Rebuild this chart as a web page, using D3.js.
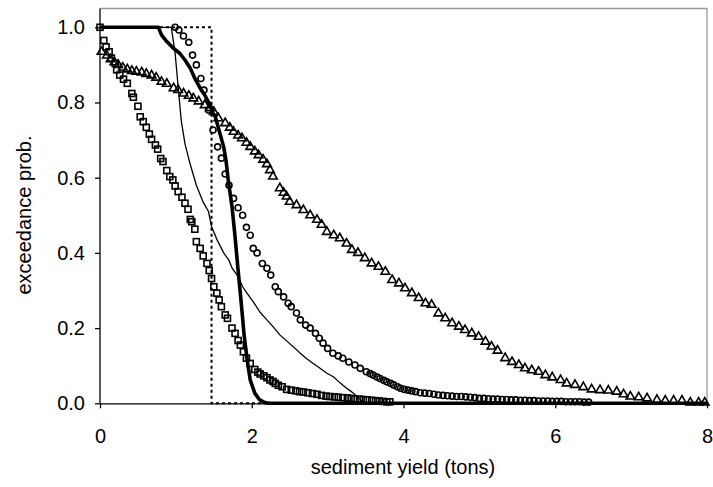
<!DOCTYPE html>
<html><head><meta charset="utf-8">
<script src="https://cdn.jsdelivr.net/npm/d3@7"></script>
<style>
html,body{margin:0;padding:0;background:#fff;}
text{font-family:"Liberation Sans",Arial,sans-serif;fill:#000;}
</style>
</head><body>
<svg id="chart" width="713" height="487"></svg>
<script>
// ---- data (x = sediment yield in tons, y = exceedance probability) ----
const xTicks = [0, 2, 4, 6, 8];
const yTicks = [0, 0.2, 0.4, 0.6, 0.8, 1.0];
const xTitle = "sediment yield (tons)";
const yTitle = "exceedance prob.";

const squareSeries = [[0,1.0],[0.05,0.965],[0.08,0.948],[0.12,0.935],[0.15,0.918],[0.2,0.904],[0.22,0.887],[0.26,0.873],[0.31,0.862],[0.36,0.851],[0.42,0.824],[0.44,0.814],[0.5,0.79],[0.53,0.762],[0.57,0.749],[0.61,0.734],[0.65,0.716],[0.68,0.702],[0.73,0.687],[0.76,0.676],[0.8,0.651],[0.83,0.643],[0.88,0.619],[0.92,0.603],[0.96,0.594],[0.99,0.578],[1.03,0.563],[1.08,0.548],[1.12,0.532],[1.16,0.516],[1.19,0.489],[1.21,0.483],[1.25,0.463],[1.27,0.43],[1.32,0.412],[1.36,0.392],[1.41,0.372],[1.44,0.353],[1.47,0.332],[1.5,0.31],[1.54,0.293],[1.57,0.275],[1.6,0.257],[1.65,0.235],[1.68,0.226],[1.74,0.2],[1.78,0.186],[1.82,0.167],[1.85,0.155],[1.89,0.137],[1.93,0.12],[1.98,0.106],[2.04,0.09],[2.08,0.083],[2.11,0.078],[2.16,0.073],[2.2,0.068],[2.24,0.062],[2.28,0.058],[2.31,0.053],[2.35,0.048],[2.4,0.044],[2.46,0.037],[2.52,0.035],[2.58,0.033],[2.63,0.031],[2.68,0.03],[2.74,0.028],[2.8,0.026],[2.86,0.024],[2.92,0.021],[2.98,0.019],[3.03,0.018],[3.09,0.017],[3.14,0.016],[3.2,0.015],[3.26,0.014],[3.31,0.013],[3.36,0.012],[3.42,0.011],[3.47,0.01],[3.52,0.009],[3.58,0.008],[3.63,0.007],[3.68,0.006],[3.73,0.005],[3.78,0.004],[3.82,0.004]];

const circleSeries = [[0.99,1.0],[1.04,0.993],[1.1,0.977],[1.17,0.96],[1.22,0.926],[1.27,0.9],[1.33,0.864],[1.37,0.833],[1.43,0.78],[1.49,0.727],[1.55,0.682],[1.6,0.652],[1.65,0.61],[1.7,0.58],[1.76,0.545],[1.82,0.52],[1.88,0.5],[1.93,0.468],[1.98,0.447],[2.02,0.412],[2.07,0.4],[2.14,0.372],[2.2,0.359],[2.25,0.341],[2.31,0.31],[2.35,0.297],[2.42,0.283],[2.48,0.266],[2.52,0.257],[2.59,0.24],[2.64,0.222],[2.71,0.208],[2.77,0.2],[2.84,0.186],[2.89,0.173],[2.94,0.16],[3.0,0.146],[3.07,0.133],[3.14,0.126],[3.2,0.12],[3.28,0.11],[3.36,0.102],[3.43,0.093],[3.51,0.084],[3.56,0.079],[3.6,0.075],[3.65,0.07],[3.69,0.066],[3.74,0.061],[3.78,0.057],[3.83,0.053],[3.87,0.049],[3.92,0.044],[3.96,0.04],[4.01,0.037],[4.06,0.035],[4.11,0.033],[4.16,0.031],[4.22,0.028],[4.28,0.027],[4.34,0.026],[4.4,0.024],[4.46,0.022],[4.52,0.021],[4.58,0.02],[4.64,0.019],[4.7,0.018],[4.76,0.018],[4.82,0.017],[4.88,0.016],[4.94,0.015],[5.0,0.013],[5.06,0.013],[5.12,0.012],[5.18,0.011],[5.24,0.011],[5.3,0.01],[5.36,0.01],[5.42,0.009],[5.48,0.009],[5.54,0.008],[5.6,0.008],[5.66,0.007],[5.72,0.007],[5.78,0.006],[5.84,0.006],[5.9,0.006],[5.96,0.005],[6.02,0.005],[6.08,0.005],[6.14,0.004],[6.2,0.004],[6.26,0.004],[6.32,0.004],[6.38,0.003],[6.44,0.003]];

const triangleSeries = [[0.02,0.935],[0.09,0.925],[0.14,0.915],[0.19,0.907],[0.24,0.9],[0.3,0.893],[0.36,0.888],[0.42,0.884],[0.48,0.882],[0.55,0.88],[0.61,0.876],[0.68,0.872],[0.74,0.866],[0.81,0.855],[0.88,0.85],[0.97,0.838],[1.03,0.833],[1.1,0.824],[1.17,0.818],[1.23,0.811],[1.3,0.803],[1.38,0.793],[1.45,0.785],[1.5,0.775],[1.56,0.758],[1.65,0.745],[1.71,0.733],[1.76,0.722],[1.82,0.712],[1.87,0.705],[1.93,0.693],[1.98,0.682],[2.04,0.67],[2.09,0.66],[2.15,0.648],[2.2,0.636],[2.24,0.62],[2.28,0.603],[2.37,0.572],[2.42,0.56],[2.46,0.55],[2.5,0.536],[2.59,0.527],[2.68,0.514],[2.77,0.5],[2.86,0.488],[2.92,0.475],[2.99,0.456],[3.08,0.447],[3.16,0.439],[3.25,0.425],[3.32,0.408],[3.4,0.4],[3.49,0.386],[3.58,0.372],[3.67,0.363],[3.76,0.35],[3.85,0.328],[3.94,0.319],[4.02,0.306],[4.11,0.293],[4.2,0.28],[4.29,0.266],[4.37,0.262],[4.46,0.239],[4.55,0.226],[4.64,0.213],[4.73,0.204],[4.81,0.195],[4.9,0.186],[4.99,0.177],[5.08,0.164],[5.16,0.151],[5.24,0.14],[5.34,0.12],[5.43,0.11],[5.52,0.102],[5.6,0.093],[5.69,0.088],[5.78,0.084],[5.87,0.075],[5.96,0.069],[6.07,0.062],[6.15,0.053],[6.26,0.049],[6.37,0.043],[6.48,0.037],[6.59,0.035],[6.7,0.034],[6.81,0.031],[6.9,0.024],[6.99,0.018],[7.1,0.016],[7.21,0.013],[7.34,0.009],[7.45,0.007],[7.56,0.007],[7.67,0.007],[7.78,0.002],[7.89,0.002],[7.97,0.002]];

const thickLine = [[0,1],[0.77,1],[0.81,0.98],[0.88,0.962],[0.97,0.944],[1.05,0.931],[1.12,0.913],[1.19,0.891],[1.25,0.864],[1.32,0.838],[1.38,0.82],[1.45,0.793],[1.49,0.771],[1.52,0.762],[1.58,0.718],[1.63,0.682],[1.66,0.647],[1.69,0.594],[1.74,0.523],[1.78,0.443],[1.82,0.354],[1.86,0.27],[1.9,0.18],[1.94,0.115],[1.98,0.062],[2.04,0.027],[2.1,0.01],[2.16,0.003],[2.22,0],[8,0]];

const thinLine = [[0,1],[0.94,1],[0.99,0.931],[1.03,0.842],[1.07,0.753],[1.12,0.69],[1.19,0.635],[1.27,0.58],[1.36,0.535],[1.43,0.51],[1.47,0.47],[1.54,0.436],[1.63,0.4],[1.7,0.38],[1.74,0.36],[1.82,0.337],[1.88,0.31],[1.93,0.295],[2.02,0.27],[2.11,0.242],[2.2,0.222],[2.28,0.204],[2.37,0.182],[2.46,0.166],[2.55,0.15],[2.64,0.133],[2.72,0.119],[2.81,0.106],[2.9,0.093],[2.99,0.08],[3.08,0.07],[3.16,0.055],[3.25,0.04],[3.3,0.033],[3.34,0.027],[3.42,0.012],[3.47,0.004],[3.52,0]];

const dottedLine = [[0,1],[1.47,1],[1.47,0],[8,0]];

// ---- layout ----
const svg = d3.select("#chart");
const x = d3.scaleLinear().domain([0, 8]).range([100, 707]);
const y = d3.scaleLinear().domain([0, 1.05]).range([403.3, 8.5]);

// plot-area frame (grey, top & right)
svg.append("path")
  .attr("d", `M${x(0)},${y(1.05)}H${x(8)}V${y(0)}`)
  .attr("fill", "none").attr("stroke", "#999").attr("stroke-width", 1.3);

const line = d3.line().x(d => x(d[0])).y(d => y(d[1]));

const g = svg.append("g");
g.append("path").datum(dottedLine).attr("d", line)
  .attr("fill", "none").attr("stroke", "#000").attr("stroke-width", 2)
  .attr("stroke-dasharray", "3,3");
g.append("path").datum(thinLine).attr("d", line)
  .attr("fill", "none").attr("stroke", "#000").attr("stroke-width", 1.3);
g.append("path").datum(thickLine).attr("d", line)
  .attr("fill", "none").attr("stroke", "#000").attr("stroke-width", 3.6)
  .attr("stroke-linejoin", "round");

// markers
const mk = svg.append("g").attr("fill", "none").attr("stroke", "#000").attr("stroke-width", 1.6);
mk.selectAll("rect.sq").data(squareSeries).join("rect").attr("class", "sq")
  .attr("x", d => x(d[0]) - 3).attr("y", d => y(d[1]) - 3)
  .attr("width", 6).attr("height", 6);
mk.selectAll("circle.ci").data(circleSeries).join("circle").attr("class", "ci")
  .attr("cx", d => x(d[0])).attr("cy", d => y(d[1])).attr("r", 3);
const tri = d3.symbol().type(d3.symbolTriangle).size(32);
mk.selectAll("path.tr").data(triangleSeries).join("path").attr("class", "tr")
  .attr("transform", d => `translate(${x(d[0])},${y(d[1])})`)
  .attr("d", tri);

// axes
const xAxis = svg.append("g").attr("transform", `translate(0,${y(0)})`)
  .call(d3.axisBottom(x).tickValues(xTicks).tickFormat(d3.format("d")).tickSize(5).tickPadding(21).tickSizeOuter(0));
const yAxis = svg.append("g").attr("transform", `translate(${x(0)},0)`)
  .call(d3.axisLeft(y).tickValues(yTicks).tickFormat(d3.format(".1f")).tickSize(5).tickPadding(10).tickSizeOuter(0));
[xAxis, yAxis].forEach(a => {
  a.select(".domain").attr("stroke", "#000").attr("stroke-width", 1.3);
  a.selectAll(".tick line").attr("stroke", "#000").attr("stroke-width", 1.3);
  a.selectAll(".tick text").attr("font-size", 20).attr("font-family", "Liberation Sans, Arial, sans-serif").attr("fill", "#000");
});
yAxis.select(".domain").attr("d", `M0,${y(0)}V${y(1.05)}`);

svg.append("text").attr("x", 403).attr("y", 474)
  .attr("text-anchor", "middle").attr("font-size", 20).text(xTitle);
svg.append("text").attr("transform", "translate(31,215) rotate(-90)")
  .attr("text-anchor", "middle").attr("font-size", 20).text(yTitle);
</script>
</body></html>
